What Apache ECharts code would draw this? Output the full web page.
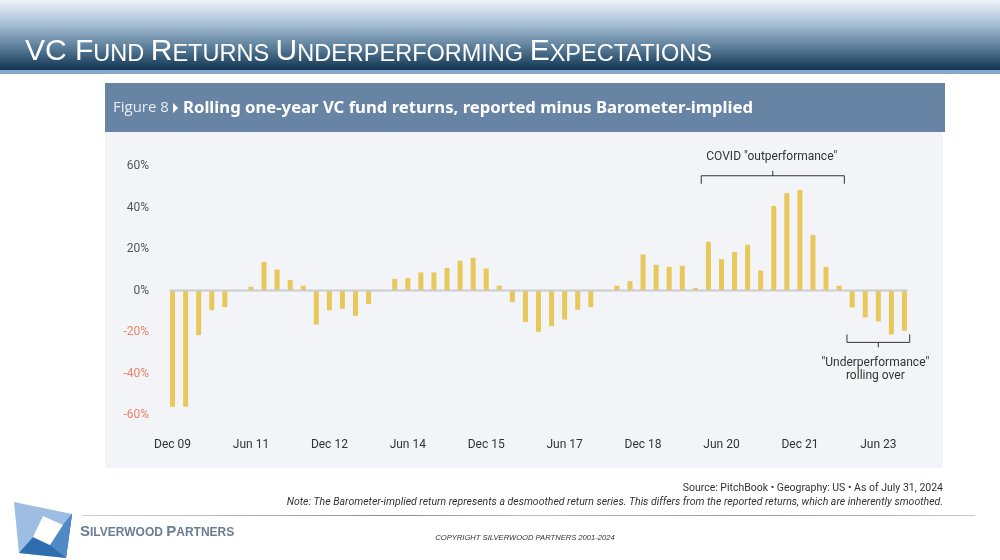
<!DOCTYPE html>
<html><head><meta charset="utf-8">
<script src="https://cdn.jsdelivr.net/npm/echarts@6/dist/echarts.min.js"></script>
<style>html,body{margin:0;padding:0;background:#fff}#c{width:1000px;height:560px}</style>
</head><body><div id="c"></div>
<script>
const categories = [
  'Dec 09','Mar 10','Jun 10','Sep 10','Dec 10','Mar 11','Jun 11','Sep 11','Dec 11',
  'Mar 12','Jun 12','Sep 12','Dec 12','Mar 13','Jun 13','Sep 13','Dec 13',
  'Mar 14','Jun 14','Sep 14','Dec 14','Mar 15','Jun 15','Sep 15','Dec 15',
  'Mar 16','Jun 16','Sep 16','Dec 16','Mar 17','Jun 17','Sep 17','Dec 17',
  'Mar 18','Jun 18','Sep 18','Dec 18','Mar 19','Jun 19','Sep 19','Dec 19',
  'Mar 20','Jun 20','Sep 20','Dec 20','Mar 21','Jun 21','Sep 21','Dec 21',
  'Mar 22','Jun 22','Sep 22','Dec 22','Mar 23','Jun 23','Sep 23','Dec 23'
];
const returnsDiff = [
  -56, -56, -21.5, -9.5, -8, -0.3, 1.8, 13.8, 10.1,
  5, 2.3, -16.4, -9.5, -8.8, -12.2, -6.6, -0.3,
  5.6, 6, 8.7, 8.7, 10.9, 14.3, 15.8, 10.6,
  2.3, -5.6, -15.2, -19.9, -17.2, -14, -9.3, -8,
  0.3, 2.3, 4.5, 17.4, 12.4, 11.4, 11.9, 1.3,
  23.5, 15.1, 18.5, 22, 9.6, 40.7, 46.9, 48.4,
  26.7, 11.4, 2.3, -8.2, -13, -14.9, -21.2, -19.4
];
const yMin = -60, yMax = 60, yStep = 20;

const chart = echarts.init(document.getElementById('c'), null, {renderer: 'canvas', width: 1000, height: 560});

const baseFont = 'Roboto, "Noto Sans", sans-serif';

const staticGraphics = [
  // header gradient
  {type: 'rect', shape: {x: 0, y: 0, width: 1000, height: 70}, silent: true, z: -10,
   style: {fill: new echarts.graphic.LinearGradient(0, 0, 0, 1, [
     {offset: 0, color: '#eef3f9'}, {offset: 0.35, color: '#a6bed6'},
     {offset: 0.7, color: '#557894'}, {offset: 1, color: '#0f3350'}])}},
  {type: 'rect', shape: {x: 0, y: 70, width: 1000, height: 4}, silent: true, z: -10,
   style: {fill: '#86a8cb'}},
  {type: 'text', x: 25, y: 67, silent: true,
   style: {
     text: '{b|VC F}{s|UND }{b|R}{s|ETURNS }{b|U}{s|NDERPERFORMING }{b|E}{s|XPECTATIONS}',
     verticalAlign: 'bottom',
     rich: {
       b: {fontFamily: '"Liberation Sans", Arial, sans-serif', fontSize: 30, fill: '#ffffff', verticalAlign: 'bottom', lineHeight: 30},
       s: {fontFamily: '"Liberation Sans", Arial, sans-serif', fontSize: 23.5, fill: '#ffffff', verticalAlign: 'bottom', lineHeight: 30}
     }
   }},
  // figure band
  {type: 'rect', shape: {x: 105, y: 83, width: 840, height: 49}, silent: true, z: -10,
   style: {fill: '#6884a4'}},
  {type: 'rect', shape: {x: 105, y: 132, width: 838, height: 336}, silent: true, z: -10,
   style: {fill: '#f2f4f8'}},
  {type: 'text', x: 113, y: 108, silent: true,
   style: {text: 'Figure 8', fontFamily: '"Open Sans", sans-serif', fontSize: 15, fill: '#e6edf5', verticalAlign: 'middle'}},
  {type: 'polygon', silent: true, shape: {points: [[173, 103], [178, 108], [173, 113]]}, style: {fill: '#ffffff'}},
  {type: 'text', x: 183, y: 108, silent: true,
   style: {text: 'Rolling one-year VC fund returns, reported minus Barometer-implied', fontFamily: '"Noto Sans", sans-serif',
     fontWeight: 'bold', fontSize: 16.7, fill: '#ffffff', verticalAlign: 'middle'}},
  // footer
  {type: 'text', x: 943, y: 488, silent: true,
   style: {text: 'Source: PitchBook \u2022 Geography: US \u2022 As of July 31, 2024', fontFamily: baseFont, fontSize: 10.5,
     fill: '#333333', align: 'right', verticalAlign: 'middle'}},
  {type: 'text', x: 943, y: 502, silent: true,
   style: {text: 'Note: The Barometer-implied return represents a desmoothed return series. This differs from the reported returns, which are inherently smoothed.',
     fontFamily: baseFont, fontStyle: 'italic', fontSize: 10.5, fill: '#333333', align: 'right', verticalAlign: 'middle'}},
  {type: 'rect', silent: true, shape: {x: 82, y: 515, width: 893, height: 1},
   style: {fill: new echarts.graphic.LinearGradient(0, 0, 1, 0, [
     {offset: 0, color: '#cfcfcf'}, {offset: 0.2, color: '#b0b0b0'}, {offset: 0.35, color: '#8c8c8c'},
     {offset: 0.5, color: '#bdbdbd'}, {offset: 0.75, color: '#9a9a9a'}, {offset: 1, color: '#c8c8c8'}])}},
  // logo
  {type: 'polygon', silent: true, shape: {points: [[14, 502], [72, 514], [66, 558], [19, 553]]}, style: {fill: '#9dbde2'}},
  {type: 'polygon', silent: true, shape: {points: [[33, 537], [50, 545], [63, 525], [72, 514], [66, 558], [19, 553]]}, style: {fill: '#2f6eae'}},
  {type: 'polygon', silent: true, shape: {points: [[63, 525], [72, 514], [66, 558], [50, 545]]}, style: {fill: '#4f8ac6'}},
  {type: 'polygon', silent: true, shape: {points: [[43, 516], [63, 525], [50, 545], [33, 537]]}, style: {fill: '#ffffff'}},
  {type: 'text', x: 80, y: 539, silent: true,
   style: {text: '{b|S}{s|ILVERWOOD }{b|P}{s|ARTNERS}', verticalAlign: 'bottom',
     rich: {
       b: {fontFamily: '"Liberation Sans", Arial, sans-serif', fontWeight: 'bold', fontSize: 15, fill: '#6b7d92', verticalAlign: 'bottom', lineHeight: 15},
       s: {fontFamily: '"Liberation Sans", Arial, sans-serif', fontWeight: 'bold', fontSize: 12, fill: '#6b7d92', verticalAlign: 'bottom', lineHeight: 15}
     }}},
  {type: 'text', x: 525, y: 538, silent: true,
   style: {text: 'COPYRIGHT SILVERWOOD PARTNERS 2001-2024', fontFamily: '"Liberation Sans", Arial, sans-serif', fontStyle: 'italic',
     fontSize: 7.6, fill: '#333333', align: 'center', verticalAlign: 'middle'}}
];

chart.setOption({
  animation: false,
  backgroundColor: '#ffffff',
  grid: {left: 166, width: 745, top: 166, height: 249, containLabel: false},
  xAxis: {
    type: 'category', data: categories, boundaryGap: true,
    axisLine: {show: false}, axisTick: {show: false},
    axisLabel: {interval: 5, margin: 24, fontFamily: baseFont, fontSize: 12, color: '#333333'},
    splitLine: {show: false}
  },
  yAxis: {
    type: 'value', min: yMin, max: yMax, interval: yStep,
    axisLine: {show: false}, axisTick: {show: false}, splitLine: {show: false},
    axisLabel: {margin: 17, fontFamily: baseFont, fontSize: 12,
      formatter: v => v + '%',
      color: v => (Number(v) < 0 ? '#e8846a' : '#555555')}
  },
  series: [{
    type: 'bar', data: returnsDiff, barWidth: 5,
    itemStyle: {color: '#e8c75b'}
  }],
  graphic: staticGraphics
});

// annotations anchored to data coordinates
const p0 = chart.convertToPixel({gridIndex: 0}, [0, 0]);
const p1 = chart.convertToPixel({gridIndex: 0}, [1, 0]);
const step = p1[0] - p0[0];
const xAt = i => p0[0] + i * step;
const yAt = v => chart.convertToPixel({gridIndex: 0}, [0, v])[1];

const covid = {from: 40.45, to: 51.4, level: 55.3, label: 'COVID "outperformance"'};
const under = {from: 51.6, to: 56.4, level: -25, label: '"Underperformance"\nrolling over'};

const ann = [];
// zero baseline spanning the bars
ann.push({type: 'line', silent: true, z: 5,
  shape: {x1: xAt(0) - 3, y1: yAt(0), x2: xAt(categories.length - 1) + 3, y2: yAt(0)},
  style: {stroke: '#cccccc', lineWidth: 2}});
(function () {
  const x1 = xAt(covid.from), x2 = xAt(covid.to), y = yAt(covid.level), xm = (x1 + x2) / 2;
  ann.push({type: 'polyline', silent: true, shape: {points: [[x1, y + 8], [x1, y], [x2, y], [x2, y + 8]]},
    style: {stroke: '#333333', lineWidth: 1, fill: null}});
  ann.push({type: 'line', silent: true, shape: {x1: xm, y1: y, x2: xm, y2: y - 5}, style: {stroke: '#333333', lineWidth: 1}});
  ann.push({type: 'text', silent: true, x: xm - 1, y: y - 19,
    style: {text: covid.label, fontFamily: baseFont, fontSize: 12, fill: '#333333', align: 'center', verticalAlign: 'middle'}});
})();
(function () {
  const x1 = xAt(under.from), x2 = xAt(under.to), y = yAt(under.level), xm = (x1 + x2) / 2;
  ann.push({type: 'polyline', silent: true, shape: {points: [[x1, y - 8], [x1, y], [x2, y], [x2, y - 8]]},
    style: {stroke: '#333333', lineWidth: 1, fill: null}});
  ann.push({type: 'line', silent: true, shape: {x1: xm, y1: y, x2: xm, y2: y + 5}, style: {stroke: '#333333', lineWidth: 1}});
  ann.push({type: 'text', silent: true, x: xm - 3, y: y + 27,
    style: {text: under.label, fontFamily: baseFont, fontSize: 12, lineHeight: 13, fill: '#333333', align: 'center', verticalAlign: 'middle'}});
})();

chart.setOption({graphic: staticGraphics.concat(ann)}, {replaceMerge: ['graphic']});
</script>
</body></html>
